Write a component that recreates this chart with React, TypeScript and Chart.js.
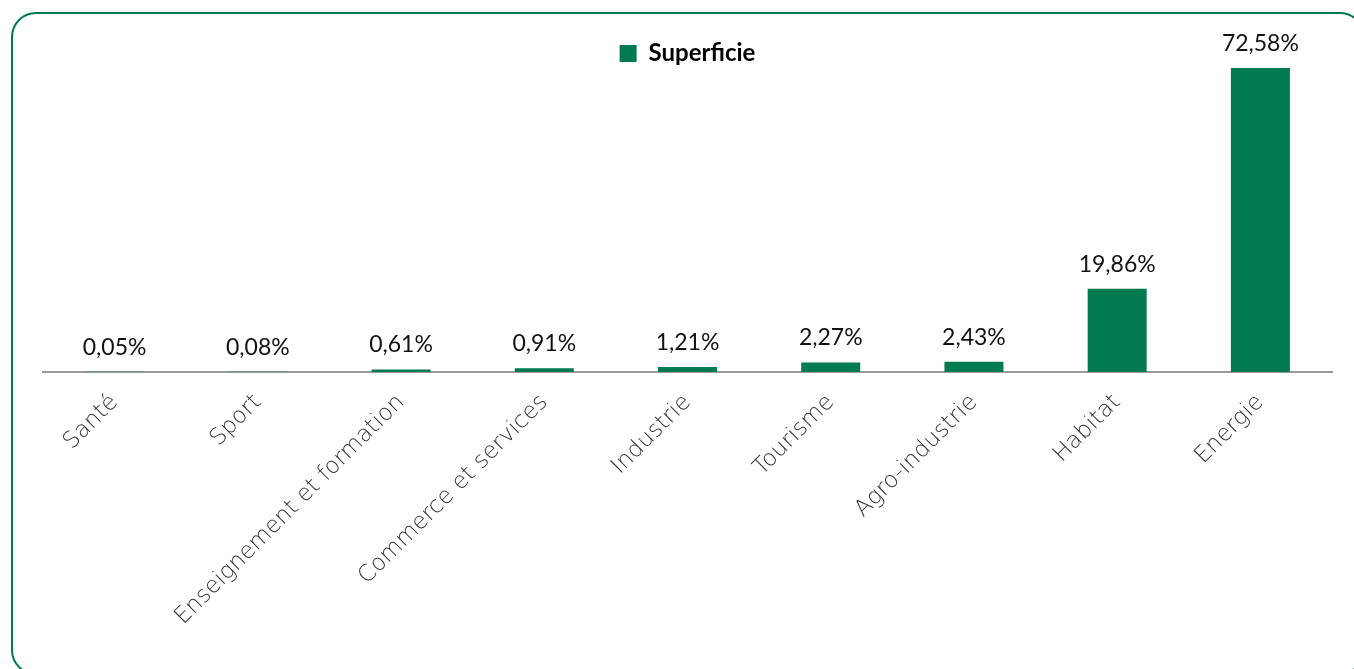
import React, { useEffect, useRef } from "react";
import { Chart, registerables } from "chart.js";

Chart.register(...registerables);

const categories = [
  "Santé",
  "Sport",
  "Enseignement et formation",
  "Commerce et services",
  "Industrie",
  "Tourisme",
  "Agro-industrie",
  "Habitat",
  "Energie",
];
const superficie = [0.05, 0.08, 0.61, 0.91, 1.21, 2.27, 2.43, 19.86, 72.58];
const seriesName = "Superficie";
const GREEN = "#007A4E";

const fmt = (v: number) => v.toFixed(2).replace(".", ",") + "%";

const dataLabelPlugin = {
  id: "dataLabels",
  afterDatasetsDraw(chart: any) {
    const ctx = chart.ctx;
    const meta = chart.getDatasetMeta(0);
    ctx.save();
    ctx.font = "23px Lato";
    ctx.fillStyle = "#111111";
    ctx.textAlign = "center";
    ctx.textBaseline = "alphabetic";
    meta.data.forEach((bar: any, i: number) => {
      ctx.fillText(fmt(superficie[i]), bar.x, bar.y - 17);
    });
    ctx.restore();
  },
};

// moves the library legend down so it sits over the top of the plot area
const legendShiftPlugin = {
  id: "legendShift",
  afterLayout(chart: any) {
    const lg = chart.legend;
    if (!lg) return;
    const dy = 41.5 - lg.top;
    lg.top += dy;
    lg.bottom += dy;
  },
};

export default function App() {
  const ref = useRef<HTMLCanvasElement>(null);
  useEffect(() => {
    if (!ref.current) return;
    const chart = new Chart(ref.current, {
      type: "bar",
      data: {
        labels: categories,
        datasets: [
          {
            label: seriesName,
            data: superficie,
            backgroundColor: GREEN,
            borderWidth: 0,
            barPercentage: 0.412,
            categoryPercentage: 1,
          },
        ],
      },
      options: {
        animation: false,
        responsive: false,
        devicePixelRatio: 1,
        layout: { padding: { left: 43, right: 22, top: 3, bottom: 0 } },
        plugins: {
          tooltip: { enabled: false },
          legend: {
            position: "top",
            align: "center",
            labels: {
              font: { family: "Lato", weight: "bold", size: 24 },
              color: "#000000",
              boxWidth: 17,
              boxHeight: 17,
              padding: 0,
            },
          },
        },
        scales: {
          x: {
            grid: { display: false },
            border: { display: true, color: "#9a9a9a", width: 2 },
            ticks: {
              maxRotation: 45,
              minRotation: 45,
              autoSkip: false,
              padding: 9,
              color: "#333333",
              font: { family: "DejaVu Sans", weight: 200 as any, size: 23 },
            },
            afterFit: (scale: any) => {
              scale.height = 669 - 372;
              scale.paddingLeft = 0;
              scale.paddingRight = 0;
            },
          },
          y: {
            display: false,
            min: 0,
            max: 80,
          },
        },
      },
      plugins: [legendShiftPlugin, dataLabelPlugin],
    });
    return () => chart.destroy();
  }, []);

  return (
    <div
      style={{
        position: "fixed",
        left: 0,
        top: 0,
        width: 1354,
        height: 669,
        overflow: "hidden",
        background: "#ffffff",
      }}
    >
      <div
        style={{
          position: "absolute",
          left: 11,
          top: 12,
          width: 1354,
          height: 663,
          boxSizing: "border-box",
          border: "2px solid " + GREEN,
          borderRadius: 25,
        }}
      />
      <canvas
        ref={ref}
        width={1354}
        height={669}
        style={{ position: "absolute", left: 0, top: 0, width: 1354, height: 669 }}
      />
    </div>
  );
}
